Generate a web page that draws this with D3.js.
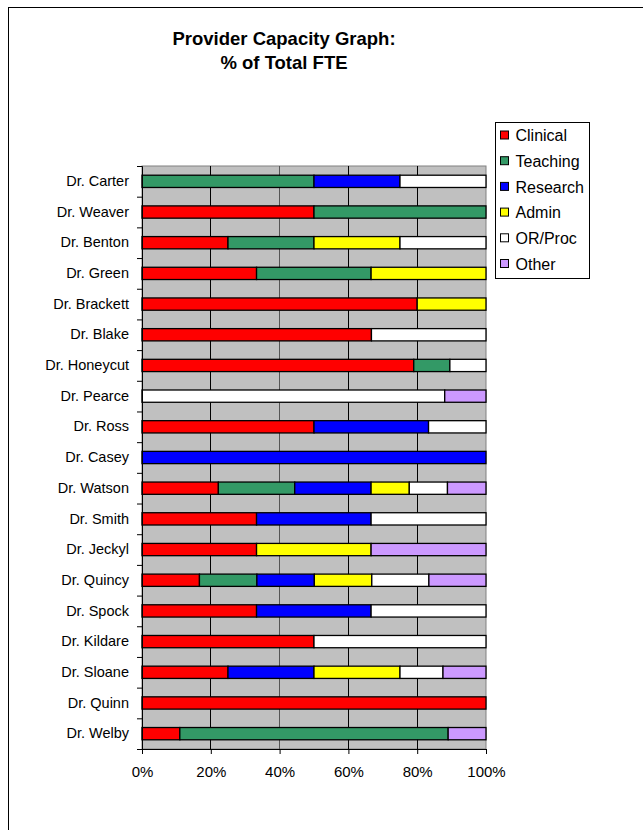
<!DOCTYPE html>
<html>
<head>
<meta charset="utf-8">
<script src="https://cdn.jsdelivr.net/npm/d3@7"></script>
<style>
  body { margin: 0; background: #fff; }
  svg { display: block; font-family: "Liberation Sans", Arial, sans-serif; }
</style>
</head>
<body>
<div id="chart"></div>
<script>
const providers = ["Dr. Carter","Dr. Weaver","Dr. Benton","Dr. Green","Dr. Brackett","Dr. Blake",
  "Dr. Honeycut","Dr. Pearce","Dr. Ross","Dr. Casey","Dr. Watson","Dr. Smith","Dr. Jeckyl",
  "Dr. Quincy","Dr. Spock","Dr. Kildare","Dr. Sloane","Dr. Quinn","Dr. Welby"]
const categories = ["Clinical","Teaching","Research","Admin","OR/Proc","Other"]
const colors = ["#ff0000","#339966","#0000ff","#ffff00","#ffffff","#cc99ff"]

const clinical = [0, 0.5, 0.25, 0.333, 0.8, 0.667, 0.79, 0, 0.5, 0, 0.222, 0.333, 0.333, 0.167, 0.333, 0.5, 0.25, 1, 0.11]
const teaching = [0.5, 0.5, 0.25, 0.333, 0, 0, 0.105, 0, 0, 0, 0.222, 0, 0, 0.167, 0, 0, 0, 0, 0.78]
const research = [0.25, 0, 0, 0, 0, 0, 0, 0, 0.333, 1, 0.222, 0.333, 0, 0.167, 0.333, 0, 0.25, 0, 0]
const admin    = [0, 0, 0.25, 0.334, 0.2, 0, 0, 0, 0, 0, 0.111, 0, 0.333, 0.167, 0, 0, 0.25, 0, 0]
const orProc   = [0.25, 0, 0.25, 0, 0, 0.333, 0.105, 0.88, 0.167, 0, 0.111, 0.334, 0, 0.166, 0.334, 0.5, 0.125, 0, 0]
const other    = [0, 0, 0, 0, 0, 0, 0, 0.12, 0, 0, 0.112, 0, 0.334, 0.166, 0, 0, 0.125, 0, 0.11]
const xTicks = [0, 0.2, 0.4, 0.6, 0.8, 1]

const series = [clinical, teaching, research, admin, orProc, other]
const table = providers.map((p,i) => {
  const row = {name: p}
  categories.forEach((c,j) => row[c] = series[j][i])
  return row
})
const stacked = d3.stack().keys(categories)(table)

const W = 643, H = 830
const plot = {left:142, right:486, top:166, bottom:749}

const svg = d3.select("#chart").append("svg")
  .attr("width", W).attr("height", H)

// outer chart frame
svg.append("rect")
  .attr("x", 8.5).attr("y", 7.5)
  .attr("width", 700).attr("height", 900)
  .attr("fill", "#fff").attr("stroke", "#000")

// title
svg.append("text")
  .attr("x", 284).attr("y", 45)
  .attr("text-anchor", "middle")
  .style("font-size", "18.5px").style("font-weight", "bold")
  .text("Provider Capacity Graph:")
svg.append("text")
  .attr("x", 284).attr("y", 69)
  .attr("text-anchor", "middle")
  .style("font-size", "18.5px").style("font-weight", "bold")
  .text("% of Total FTE")

const x = d3.scaleLinear().domain([0,1]).range([plot.left, plot.right])
const y = d3.scaleBand().domain(providers)
  .range([plot.top, plot.bottom]).paddingInner(0.6).paddingOuter(0.3)
const yIdx = d3.scaleLinear().domain([0, providers.length]).range([plot.top, plot.bottom])

// plot area
svg.append("rect")
  .attr("x", plot.left).attr("y", plot.top)
  .attr("width", plot.right - plot.left).attr("height", plot.bottom - plot.top)
  .attr("fill", "#c0c0c0").attr("stroke", "#808080")

// vertical gridlines
svg.selectAll(".grid")
  .data(xTicks.slice(1, -1))
  .enter().append("line")
  .attr("x1", d => x(d)).attr("x2", d => x(d))
  .attr("y1", plot.top).attr("y2", plot.bottom)
  .attr("stroke", d => d == 0.4 ? "#555" : "#000").attr("stroke-width", d => d == 0.4 ? 1.5 : 1)
  .attr("shape-rendering", "crispEdges")

// bars
svg.selectAll(".layer")
  .data(stacked)
  .enter().append("g")
  .attr("fill", (d,i) => colors[i])
  .selectAll("rect")
  .data(d => d.filter(s => s[1] - s[0] > 0))
  .enter().append("rect")
    .attr("x", d => x(d[0]))
    .attr("y", d => y(d.data.name))
    .attr("width", d => x(d[1]) - x(d[0]))
    .attr("height", y.bandwidth())
    .attr("stroke", "#000").attr("stroke-width", 1.3)

// y axis: labels
const gyl = svg.append("g")
  .attr("transform", "translate(" + plot.left + ",0)")
  .call(d3.axisLeft(y).tickSize(0).tickPadding(13))
gyl.select(".domain").remove()
gyl.selectAll("text").style("font-size", "14.5px").attr("fill", "#000")

// y axis: tick marks at band edges
svg.append("g")
  .attr("transform", "translate(" + plot.left + ",0)")
  .call(d3.axisLeft(yIdx).tickValues(d3.range(0, providers.length + 1)).tickFormat("").tickSize(5).tickSizeOuter(5))
  .selectAll("line, path").attr("stroke", "#000")

// x axis
const gx = svg.append("g")
  .attr("transform", "translate(0," + plot.bottom + ")")
  .call(d3.axisBottom(x).tickValues(xTicks).tickFormat(d3.format(".0%")).tickSize(5).tickSizeOuter(0).tickPadding(12))
gx.selectAll("text").style("font-size", "15px").attr("fill", "#000")
gx.selectAll("line, path").attr("stroke", "#000")

// legend
const legend = svg.append("g").attr("transform", "translate(495.5,122.5)")
legend.append("rect")
  .attr("width", 94).attr("height", 156)
  .attr("fill", "#fff").attr("stroke", "#000")
const item = legend.selectAll(".item")
  .data(categories)
  .enter().append("g")
  .attr("transform", (d,i) => "translate(5," + (13 + i * 25.7) + ")")
item.append("rect")
  .attr("x", 0).attr("y", -4.5)
  .attr("width", 8).attr("height", 8)
  .attr("fill", (d,i) => colors[i]).attr("stroke", "#000")
item.append("text")
  .attr("x", 15).attr("y", 0).attr("dy", "0.35em")
  .style("font-size", "16px")
  .text(d => d)
</script>
</body>
</html>
